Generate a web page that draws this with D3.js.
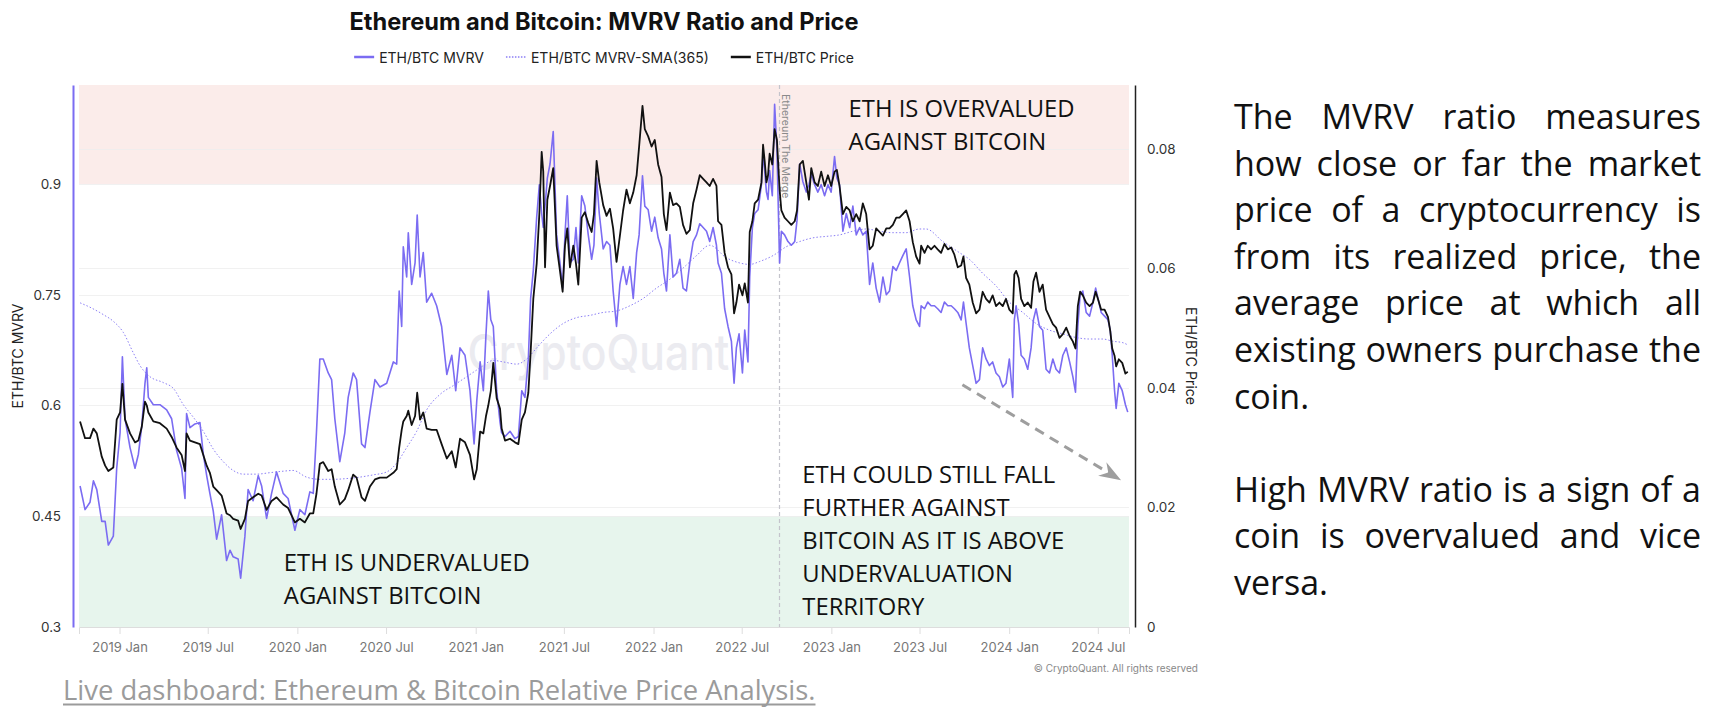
<!DOCTYPE html>
<html><head><meta charset="utf-8">
<script src="https://cdn.jsdelivr.net/npm/d3@7"></script>
<style>
html,body{margin:0;padding:0;background:#fff;}
svg{display:block;}
</style></head><body>
<svg id="chart" width="1718" height="722"></svg>
<script>
// ---------------- DATA ----------------
const chartTitle = "Ethereum and Bitcoin: MVRV Ratio and Price";
const seriesNames = ["ETH/BTC MVRV", "ETH/BTC MVRV-SMA(365)", "ETH/BTC Price"];

// decimal-year sample times shared by MVRV and price
const sampleYears = [
2018.778,2018.806,2018.834,2018.853,2018.872,2018.900,2018.919,2018.937,2018.965,2018.984,
2019.003,2019.016,2019.031,2019.059,2019.087,2019.106,2019.125,2019.143,2019.153,2019.162,
2019.190,2019.227,2019.265,2019.293,2019.321,2019.349,2019.368,2019.377,2019.396,2019.424,
2019.452,2019.471,2019.490,2019.508,2019.527,2019.546,2019.574,2019.602,2019.621,2019.639,
2019.667,2019.681,2019.705,2019.723,2019.751,2019.780,2019.799,2019.827,2019.855,2019.883,
2019.920,2019.948,
2019.986,2020.014,2020.042,2020.070,2020.089,2020.107,2020.126,2020.145,2020.173,2020.192,
2020.210,2020.238,2020.266,2020.285,2020.313,2020.332,2020.360,2020.379,2020.407,2020.435,
2020.463,2020.501,2020.538,2020.557,2020.571,2020.585,2020.594,2020.613,2020.622,2020.641,
2020.660,2020.672,2020.688,2020.706,2020.725,2020.753,2020.781,2020.809,2020.838,2020.866,
2020.888,2020.912,2020.940,2020.968,2020.991,2021.006,2021.025,2021.043,2021.058,2021.071,
2021.085,2021.099,2021.118,2021.137,
2021.146,2021.165,2021.193,2021.221,2021.240,2021.259,2021.277,2021.296,2021.309,2021.324,
2021.343,2021.358,2021.371,2021.380,2021.390,2021.403,2021.418,2021.436,2021.455,2021.474,
2021.489,2021.502,2021.515,2021.530,2021.549,2021.564,2021.577,2021.596,2021.614,2021.633,
2021.652,2021.665,2021.680,2021.695,2021.717,2021.736,2021.755,2021.773,2021.792,2021.811,
2021.829,2021.848,2021.867,2021.886,2021.905,2021.919,2021.938,2021.951,2021.970,2021.989,
2022.007,2022.026,2022.045,2022.058,2022.073,2022.092,2022.110,2022.129,2022.148,2022.166,
2022.185,2022.204,2022.223,2022.242,2022.260,2022.279,2022.298,2022.316,
2022.335,2022.354,2022.363,2022.382,2022.400,2022.419,2022.438,2022.453,2022.466,2022.481,
2022.500,2022.513,2022.531,2022.541,2022.556,2022.569,2022.588,2022.607,2022.616,2022.625,
2022.635,2022.644,2022.653,2022.668,2022.681,2022.694,2022.709,2022.719,2022.737,2022.756,
2022.775,2022.794,2022.807,2022.822,2022.840,2022.859,2022.874,2022.887,2022.906,2022.924,
2022.943,2022.962,2022.981,2022.999,2023.018,2023.031,2023.046,2023.065,2023.084,2023.103,
2023.121,2023.140,2023.159,2023.177,2023.196,2023.215,2023.233,2023.252,2023.271,2023.290,
2023.309,2023.327,2023.346,2023.365,2023.383,2023.402,2023.421,2023.440,2023.458,2023.477,
2023.496,
2023.505,2023.524,2023.542,2023.561,2023.580,2023.598,2023.617,2023.636,2023.655,2023.674,
2023.692,2023.711,2023.730,2023.743,2023.758,2023.776,2023.795,2023.814,2023.833,2023.851,
2023.870,2023.889,2023.907,2023.926,2023.945,2023.964,2023.982,2024.001,2024.020,2024.029,
2024.039,2024.053,2024.067,2024.085,2024.104,2024.123,2024.136,2024.151,2024.170,2024.188,
2024.207,2024.226,2024.245,2024.263,2024.282,2024.301,2024.320,2024.339,2024.357,2024.372,
2024.385,2024.398,2024.413,2024.432,2024.451,2024.470,2024.485,2024.498,2024.516,2024.535,
2024.554,2024.567,2024.578,2024.591,2024.600,2024.615,2024.634,2024.652,2024.665
];

const mvrvValues = [
0.491,0.459,0.469,0.498,0.486,0.443,0.443,0.411,0.423,0.515,
0.563,0.666,0.582,0.543,0.515,0.534,0.572,0.630,0.651,0.611,
0.601,0.601,0.594,0.582,0.539,0.515,0.474,0.589,0.570,0.575,
0.577,0.534,0.505,0.481,0.457,0.419,0.452,0.390,0.404,0.395,
0.392,0.366,0.423,0.486,0.471,0.505,0.491,0.447,0.481,0.510,
0.481,0.474,
0.431,0.459,0.452,0.483,0.481,0.563,0.663,0.663,0.644,0.635,
0.582,0.524,0.563,0.611,0.644,0.635,0.548,0.543,0.591,0.635,
0.625,0.630,0.659,0.656,0.755,0.707,0.815,0.774,0.834,0.764,
0.793,0.858,0.774,0.807,0.740,0.752,0.735,0.707,0.642,0.668,
0.620,0.678,0.668,0.620,0.548,0.606,0.659,0.620,0.697,0.755,
0.716,0.707,0.620,0.577,
0.563,0.558,0.565,0.555,0.558,0.620,0.611,0.663,0.745,0.783,
0.855,0.899,0.860,0.841,0.870,0.908,0.927,0.971,0.831,0.793,
0.759,0.831,0.884,0.793,0.798,0.841,0.793,0.884,0.870,0.831,
0.798,0.817,0.908,0.860,0.812,0.822,0.817,0.755,0.707,0.764,
0.788,0.764,0.788,0.745,0.807,0.831,0.911,0.870,0.865,0.836,
0.855,0.827,0.812,0.779,0.755,0.831,0.774,0.779,0.798,0.759,
0.755,0.793,0.822,0.831,0.846,0.841,0.836,0.822,
0.841,0.817,0.793,0.779,0.731,0.707,0.687,0.630,0.678,0.697,
0.644,0.702,0.659,0.774,0.841,0.860,0.865,0.899,0.942,0.918,
0.889,0.879,0.918,0.884,1.008,0.947,0.793,0.836,0.831,0.822,
0.817,0.822,0.851,0.927,0.903,0.889,0.899,0.913,0.899,0.889,
0.899,0.884,0.899,0.889,0.937,0.908,0.899,0.836,0.860,0.841,
0.870,0.831,0.841,0.831,0.836,0.764,0.793,0.759,0.740,0.774,
0.750,0.755,0.788,0.783,0.793,0.803,0.812,0.774,0.735,0.716,
0.707,
0.735,0.731,0.740,0.735,0.735,0.731,0.726,0.740,0.735,0.735,
0.731,0.726,0.716,0.740,0.711,0.678,0.654,0.630,0.635,0.678,
0.663,0.654,0.659,0.644,0.639,0.625,0.630,0.663,0.611,0.716,
0.735,0.711,0.668,0.663,0.649,0.678,0.716,0.731,0.707,0.702,
0.649,0.644,0.663,0.649,0.644,0.668,0.678,0.659,0.639,0.618,
0.707,0.750,0.755,0.726,0.721,0.740,0.759,0.745,0.726,0.721,
0.716,0.702,0.668,0.620,0.596,0.630,0.620,0.601,0.591
];

const priceValues = [
0.0344,0.0316,0.0316,0.0332,0.0324,0.0285,0.0270,0.0261,0.0267,0.0347,
0.0359,0.0407,0.0347,0.0324,0.0309,0.0312,0.0335,0.0377,0.0371,0.0359,
0.0344,0.0341,0.0332,0.0318,0.0300,0.0288,0.0261,0.0324,0.0312,0.0309,
0.0306,0.0288,0.0270,0.0258,0.0235,0.0229,0.0220,0.0190,0.0187,0.0181,
0.0178,0.0164,0.0181,0.0211,0.0217,0.0223,0.0220,0.0196,0.0211,0.0217,
0.0205,0.0199,
0.0175,0.0181,0.0175,0.0190,0.0190,0.0223,0.0273,0.0276,0.0261,0.0264,
0.0235,0.0205,0.0214,0.0229,0.0255,0.0250,0.0217,0.0211,0.0235,0.0247,
0.0250,0.0250,0.0258,0.0264,0.0300,0.0330,0.0344,0.0353,0.0362,0.0338,
0.0353,0.0392,0.0347,0.0359,0.0332,0.0330,0.0330,0.0306,0.0282,0.0294,
0.0267,0.0315,0.0309,0.0288,0.0247,0.0264,0.0327,0.0324,0.0353,0.0371,
0.0395,0.0442,0.0383,0.0365,
0.0332,0.0312,0.0315,0.0309,0.0306,0.0347,0.0359,0.0392,0.0460,0.0549,
0.0608,0.0691,0.0795,0.0762,0.0602,0.0715,0.0738,0.0768,0.0638,0.0596,
0.0561,0.0638,0.0667,0.0602,0.0638,0.0608,0.0573,0.0685,0.0694,0.0676,
0.0661,0.0691,0.0780,0.0744,0.0706,0.0688,0.0700,0.0667,0.0611,0.0655,
0.0697,0.0732,0.0709,0.0727,0.0756,0.0804,0.0872,0.0833,0.0821,0.0804,
0.0815,0.0774,0.0753,0.0691,0.0664,0.0727,0.0706,0.0709,0.0703,0.0673,
0.0658,0.0664,0.0709,0.0732,0.0756,0.0750,0.0744,0.0738,
0.0750,0.0738,0.0679,0.0673,0.0626,0.0602,0.0590,0.0525,0.0543,0.0573,
0.0555,0.0575,0.0543,0.0661,0.0679,0.0709,0.0715,0.0744,0.0807,0.0780,
0.0744,0.0756,0.0792,0.0774,0.0833,0.0815,0.0732,0.0697,0.0685,0.0679,
0.0673,0.0679,0.0697,0.0774,0.0780,0.0744,0.0715,0.0768,0.0744,0.0738,
0.0762,0.0738,0.0756,0.0738,0.0762,0.0765,0.0738,0.0691,0.0703,0.0697,
0.0679,0.0691,0.0679,0.0709,0.0691,0.0632,0.0638,0.0667,0.0661,0.0655,
0.0667,0.0667,0.0673,0.0685,0.0685,0.0691,0.0697,0.0679,0.0644,0.0620,
0.0608,
0.0638,0.0626,0.0638,0.0632,0.0638,0.0632,0.0626,0.0641,0.0632,0.0635,
0.0623,0.0602,0.0605,0.0620,0.0584,0.0573,0.0543,0.0525,0.0531,0.0561,
0.0549,0.0543,0.0555,0.0537,0.0543,0.0537,0.0549,0.0531,0.0525,0.0590,
0.0596,0.0584,0.0549,0.0537,0.0543,0.0534,0.0578,0.0593,0.0561,0.0573,
0.0531,0.0519,0.0507,0.0501,0.0484,0.0490,0.0501,0.0487,0.0478,0.0466,
0.0537,0.0561,0.0555,0.0543,0.0537,0.0543,0.0561,0.0549,0.0531,0.0531,
0.0519,0.0495,0.0466,0.0454,0.0436,0.0448,0.0442,0.0424,0.0427
];

const smaYears = [
2018.778,2018.834,2018.909,2018.965,2019.021,2019.078,2019.115,2019.171,2019.246,2019.303,
2019.359,2019.415,2019.471,2019.527,2019.583,2019.639,2019.696,2019.771,2019.846,2019.920,
2019.976,2020.051,2020.126,2020.201,2020.276,2020.351,2020.425,2020.501,2020.557,2020.613,
2020.669,2020.725,2020.800,2020.875,2020.950,2021.025,2021.099,2021.155,2021.231,2021.287,
2021.343,2021.418,2021.492,2021.568,2021.642,2021.717,2021.792,2021.867,2021.942,2022.017,
2022.092,2022.166,2022.242,2022.316,2022.410,2022.485,2022.541,2022.597,2022.672,2022.747,
2022.822,2022.896,2022.972,2023.046,2023.121,2023.196,2023.271,2023.346,2023.421,2023.496,
2023.533,2023.627,2023.720,2023.776,2023.851,2023.926,2024.001,2024.076,2024.151,2024.226,
2024.301,2024.376,2024.451,2024.525,2024.581,2024.638,2024.665
];
const smaValues = [
0.739,0.733,0.723,0.714,0.699,0.671,0.654,0.639,0.631,0.623,
0.601,0.584,0.565,0.541,0.524,0.512,0.507,0.507,0.509,0.511,
0.512,0.503,0.500,0.500,0.501,0.503,0.506,0.510,0.522,0.543,
0.565,0.594,0.615,0.627,0.639,0.651,0.661,0.659,0.656,0.663,
0.678,0.697,0.711,0.719,0.722,0.726,0.728,0.735,0.745,0.759,
0.771,0.786,0.803,0.817,0.800,0.793,0.791,0.795,0.803,0.815,
0.822,0.827,0.829,0.831,0.836,0.839,0.836,0.834,0.834,0.839,
0.839,0.822,0.807,0.798,0.779,0.762,0.740,0.726,0.711,0.702,
0.697,0.692,0.690,0.690,0.687,0.685,0.682
];

const xDomainYears = [2018.772, 2024.672];
const mvrvDomain = [0.3, 1.034];
const priceDomain = [0, 0.0907];
const mvrvTicks = [0.3, 0.45, 0.6, 0.75, 0.9];
const priceTicks = [0, 0.02, 0.04, 0.06, 0.08];
const xTickDates = ["2019-01-01","2019-07-01","2020-01-01","2020-07-01","2021-01-01","2021-07-01",
                    "2022-01-01","2022-07-01","2023-01-01","2023-07-01","2024-01-01","2024-07-01"];
const xTickLabels = ["2019 Jan","2019 Jul","2020 Jan","2020 Jul","2021 Jan","2021 Jul",
                     "2022 Jan","2022 Jul","2023 Jan","2023 Jul","2024 Jan","2024 Jul"];
const overvaluedBand = [0.9, 1.034];
const undervaluedBand = [0.3, 0.45];
const mergeDate = "2022-09-15";
const mergeLabel = "Ethereum The Merge";

// annotations in data space: [year, mvrv]
const annoOver = {at:[2023.097, 0.990], lines:["ETH IS OVERVALUED","AGAINST BITCOIN"]};
const annoUnder = {at:[2019.924, 0.376], lines:["ETH IS UNDERVALUED","AGAINST BITCOIN"]};
const annoFall = {at:[2022.837, 0.4946], lines:["ETH COULD STILL FALL","FURTHER AGAINST","BITCOIN AS IT IS ABOVE","UNDERVALUATION","TERRITORY"]};
const arrowFrom = [2023.737, 0.628];
const arrowTo = [2024.618, 0.500];
const watermarkAt = [2021.69, 0.648];

const noteParagraphs = [
  ["The MVRV ratio measures","how close or far the market","price of a cryptocurrency is","from its realized price, the","average price at which all","existing owners purchase the","coin."],
  ["High MVRV ratio is a sign of a","coin is overvalued and vice","versa."]
];
const linkText = "Live dashboard: Ethereum & Bitcoin Relative Price Analysis.";
const copyrightText = "\u00A9 CryptoQuant. All rights reserved";
const watermarkText = "CryptoQuant";

// ---------------- DRAW ----------------
const svg = d3.select("#chart");
const plot = {left:79, right:1129, top:85, bottom:627};
const C = {mvrv:"#7b6cf2", sma:"#8c7ff5", price:"#111111", pink:"#fbecea", green:"#e7f5ed",
           grid:"#eeeeee", axisText:"#333", xText:"#777"};
const uiFont = "Inter, 'Noto Sans', sans-serif";
const textFont = "'Open Sans', 'Noto Sans', sans-serif";

function yearToDate(v){const y=Math.floor(v);const s=Date.UTC(y,0,1),e=Date.UTC(y+1,0,1);return new Date(s+(v-y)*(e-s));}

const x = d3.scaleUtc().domain(xDomainYears.map(yearToDate)).range([plot.left, plot.right]);
const yL = d3.scaleLinear().domain(mvrvDomain).range([plot.bottom, plot.top]);
const yR = d3.scaleLinear().domain(priceDomain).range([plot.bottom, plot.top]);

// measuring helper
const meas = svg.append("text").attr("visibility","hidden");
function measure(str, font, size, weight){
  meas.attr("font-family",font).attr("font-size",size).attr("font-weight",weight||400).text(str);
  return meas.node().getComputedTextLength();
}

// bands
svg.append("rect").attr("x",plot.left).attr("width",plot.right-plot.left)
  .attr("y",yL(overvaluedBand[1])).attr("height",yL(overvaluedBand[0])-yL(overvaluedBand[1])).attr("fill",C.pink);
svg.append("rect").attr("x",plot.left).attr("width",plot.right-plot.left)
  .attr("y",yL(undervaluedBand[1])).attr("height",yL(undervaluedBand[0])-yL(undervaluedBand[1])).attr("fill",C.green);

// gridlines
const grid = svg.append("g").attr("stroke",C.grid).attr("stroke-width",1).attr("opacity",0.8);
mvrvTicks.filter(t=>t>mvrvDomain[0]).forEach(t=>grid.append("line").attr("x1",plot.left).attr("x2",plot.right).attr("y1",Math.round(yL(t))+0.5).attr("y2",Math.round(yL(t))+0.5));
priceTicks.filter(t=>t>0).forEach(t=>grid.append("line").attr("x1",plot.left).attr("x2",plot.right).attr("y1",Math.round(yR(t))+0.5).attr("y2",Math.round(yR(t))+0.5));

// watermark
svg.append("text").attr("x",x(yearToDate(watermarkAt[0]))).attr("y",yL(watermarkAt[1])).attr("text-anchor","middle")
  .attr("font-family",uiFont).attr("font-size",50).attr("font-weight",500)
  .attr("fill","#ebebf0").attr("textLength",262).attr("lengthAdjust","spacingAndGlyphs").text(watermarkText);

// merge line
const mx = Math.round(x(new Date(mergeDate)))+0.5;
svg.append("line").attr("x1",mx).attr("x2",mx).attr("y1",plot.top).attr("y2",plot.bottom)
  .attr("stroke","#c4c4cc").attr("stroke-width",1.2).attr("stroke-dasharray","4,3");
svg.append("text").attr("transform",`translate(${mx+2},${plot.top+9}) rotate(90)`)
  .attr("font-family",uiFont).attr("font-size",10.5).attr("fill","#8a8a8a").text(mergeLabel);

// series
const mvrvData = sampleYears.map((t,i)=>({d:yearToDate(t), v:mvrvValues[i]}));
const priceData = sampleYears.map((t,i)=>({d:yearToDate(t), v:priceValues[i]}));
const smaData = smaYears.map((t,i)=>({d:yearToDate(t), v:smaValues[i]}));

svg.append("path").datum(smaData)
  .attr("d", d3.line().x(d=>x(d.d)).y(d=>yL(d.v)).curve(d3.curveMonotoneX))
  .attr("fill","none").attr("stroke",C.sma).attr("stroke-width",1).attr("stroke-dasharray","1.5,2");
svg.append("path").datum(mvrvData)
  .attr("d", d3.line().x(d=>x(d.d)).y(d=>yL(d.v)))
  .attr("fill","none").attr("stroke",C.mvrv).attr("stroke-width",1.6).attr("stroke-linejoin","round");
svg.append("path").datum(priceData)
  .attr("d", d3.line().x(d=>x(d.d)).y(d=>yR(d.v)))
  .attr("fill","none").attr("stroke",C.price).attr("stroke-width",1.8).attr("stroke-linejoin","round");

// axes
const gL = svg.append("g").attr("transform",`translate(${plot.left-6},0)`)
  .call(d3.axisLeft(yL).tickValues(mvrvTicks).tickSize(0).tickPadding(12).tickFormat(d=>String(d)));
gL.select(".domain").attr("stroke",C.mvrv).attr("stroke-width",2);
gL.selectAll("text").attr("font-family",uiFont).attr("font-size",13.5).attr("fill",C.axisText);

const gR = svg.append("g").attr("transform",`translate(${plot.right+6},0)`)
  .call(d3.axisRight(yR).tickValues(priceTicks).tickSize(0).tickPadding(12).tickFormat(d=>String(d)));
gR.select(".domain").attr("stroke","#222").attr("stroke-width",1.5);
gR.selectAll("text").attr("font-family",uiFont).attr("font-size",13.5).attr("fill",C.axisText);

const gB = svg.append("g").attr("transform",`translate(0,${plot.bottom})`)
  .call(d3.axisBottom(x).tickValues(xTickDates.map(s=>new Date(s))).tickSize(7).tickPadding(9)
        .tickFormat((d,i)=>xTickLabels[i]));
gB.select(".domain").attr("stroke","#dddddd");
gB.selectAll(".tick line").attr("stroke","#dddddd");
gB.selectAll("text").attr("font-family",uiFont).attr("font-size",13).attr("fill",C.xText);

// axis titles
svg.append("text").attr("transform",`translate(17,356) rotate(-90)`).attr("text-anchor","middle")
  .attr("dominant-baseline","central").attr("font-family",uiFont).attr("font-size",14).attr("fill","#222").text(seriesNames[0]);
svg.append("text").attr("transform",`translate(1191,356) rotate(90)`).attr("text-anchor","middle")
  .attr("dominant-baseline","central").attr("font-family",uiFont).attr("font-size",14).attr("fill","#222").text("ETH/BTC Price");

// title
svg.append("text").attr("x",604).attr("y",30).attr("text-anchor","middle")
  .attr("font-family",uiFont).attr("font-weight",700).attr("font-size",23.6).attr("fill","#111").text(chartTitle);

// legend
(function(){
  const fs=14, sw=20, gapIn=5, gapOut=22;
  const widths = seriesNames.map(s=>measure(s,uiFont,fs,400));
  const total = d3.sum(widths) + seriesNames.length*(sw+gapIn) + (seriesNames.length-1)*gapOut;
  let cx = 604 - total/2;
  const ly = 57;
  const styles = [
    {stroke:C.mvrv, w:2.5, dash:null},
    {stroke:C.sma, w:1.5, dash:"1.5,1.5"},
    {stroke:"#111", w:2.5, dash:null}
  ];
  const g = svg.append("g");
  seriesNames.forEach((s,i)=>{
    g.append("line").attr("x1",cx).attr("x2",cx+sw).attr("y1",ly).attr("y2",ly)
      .attr("stroke",styles[i].stroke).attr("stroke-width",styles[i].w).attr("stroke-dasharray",styles[i].dash);
    g.append("text").attr("x",cx+sw+gapIn).attr("y",ly).attr("dominant-baseline","central")
      .attr("font-family",uiFont).attr("font-size",fs).attr("fill","#222").text(s);
    cx += sw+gapIn+widths[i]+gapOut;
  });
})();

// annotations
function drawAnno(a, lh){
  const g = svg.append("g").attr("font-family",textFont).attr("font-size",23.8).attr("fill","#111");
  const x0 = x(yearToDate(a.at[0])), y0 = yL(a.at[1]);
  a.lines.forEach((l,i)=>g.append("text").attr("x",x0).attr("y",y0+i*lh).text(l));
}
drawAnno(annoOver, 33);
drawAnno(annoUnder, 33);
drawAnno(annoFall, 33);

// arrow
const defs = svg.append("defs");
defs.append("marker").attr("id","arrowHead").attr("viewBox","0 0 22 16").attr("refX",20).attr("refY",8)
  .attr("markerWidth",22).attr("markerHeight",16).attr("markerUnits","userSpaceOnUse").attr("orient","auto")
  .append("path").attr("d","M0,0 L22,8 L0,16 L7,8 Z").attr("fill","#9e9e9e");
svg.append("line")
  .attr("x1",x(yearToDate(arrowFrom[0]))).attr("y1",yL(arrowFrom[1]))
  .attr("x2",x(yearToDate(arrowTo[0]))).attr("y2",yL(arrowTo[1]))
  .attr("stroke","#9e9e9e").attr("stroke-width",3).attr("stroke-dasharray","10,7")
  .attr("marker-end","url(#arrowHead)");

// copyright
svg.append("text").attr("x",1198).attr("y",672).attr("text-anchor","end")
  .attr("font-family",uiFont).attr("font-size",10).attr("fill","#888").text(copyrightText);

// link text
(function(){
  const fs = 27.4;
  const t = svg.append("text").attr("x",63).attr("y",700).attr("font-family",textFont).attr("font-size",fs)
    .attr("fill","#9b9b9b").text(linkText);
  const w = t.node().getComputedTextLength();
  svg.append("line").attr("x1",63).attr("x2",63+w).attr("y1",704.5).attr("y2",704.5).attr("stroke","#9b9b9b").attr("stroke-width",2);
})();

// justified note
(function(){
  const fs=34, x0=1234, x1=1701, y0=129, lh=46.6;
  const g = svg.append("g").attr("font-family",textFont).attr("font-size",fs).attr("fill","#111");
  const spaceW = measure("a a",textFont,fs) - measure("aa",textFont,fs);
  let li=0;
  noteParagraphs.forEach(para=>{
    para.forEach((line,k)=>{
      const words=line.split(" ");
      const ws=words.map(w=>measure(w,textFont,fs));
      const last = k===para.length-1;
      const gap = (last||words.length<2) ? spaceW : (x1-x0-d3.sum(ws))/(words.length-1);
      let cx=x0;
      words.forEach((w,i)=>{ g.append("text").attr("x",cx).attr("y",y0+li*lh).text(w); cx+=ws[i]+gap; });
      li++;
    });
    li++;
  });
})();
meas.remove();
</script>
</body></html>
